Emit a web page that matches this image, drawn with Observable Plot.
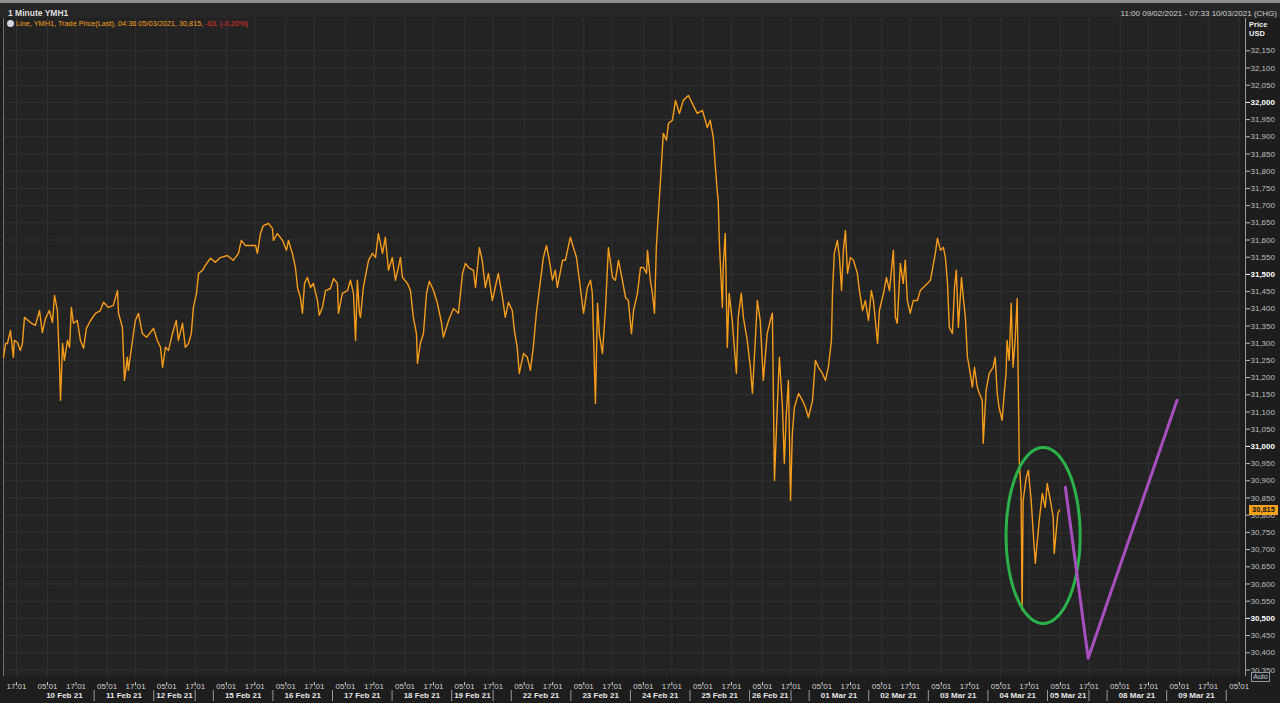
<!DOCTYPE html>
<html>
<head>
<meta charset="utf-8">
<script src="https://cdn.jsdelivr.net/npm/d3@7"></script>
<script src="https://cdn.jsdelivr.net/npm/@observablehq/plot@0.6"></script>
<style>
  html, body { margin:0; padding:0; background:#1d1d1d; }
  body { width:1280px; height:703px; position:relative; overflow:hidden; font-family:"Liberation Sans", Arial, sans-serif; }
  #topband { position:absolute; left:0; top:0; width:1280px; height:3px; background:#8e8e8e; }
  #hdr { position:absolute; left:0; top:3px; width:1280px; height:15px; background:#262626; }
  #title { position:absolute; left:8px; top:5px; font-size:8.5px; font-weight:bold; color:#dedede; line-height:10px; }
  #range { position:absolute; right:3px; top:6px; font-size:8px; color:#d0d0d0; line-height:10px; }
  #chart { position:absolute; left:0; top:18px; }
  #legend { position:absolute; left:7px; top:19px; font-size:7.3px; line-height:10px; color:#f5a01d; white-space:nowrap; }
  #legend .icon { display:inline-block; width:7px; height:7px; border-radius:50%; background:#cfd6e0; margin-right:2px; vertical-align:-1px; }
  #legend .neg { color:#e8302a; }
  .axtitle { position:absolute; left:1249px; font-size:7.5px; font-weight:bold; color:#eeeeee; line-height:9px; }
  #pricebox { position:absolute; left:1249px; width:29px; height:10px; background:#f7a21b; color:#111; font-size:7.5px; font-weight:bold; line-height:10px; text-align:center; }
  #auto { position:absolute; left:1251px; top:672px; width:17px; height:8px; border:1px solid #8d96a3; color:#c3cbd8; font-size:7px; line-height:8px; text-align:center; }
</style>
</head>
<body>
<div id="topband"></div>
<div id="hdr"><div id="title">1 Minute YMH1</div><div id="range">11:00 09/02/2021 - 07:33 10/03/2021 (CHG)</div></div>
<div id="chart"></div>
<div id="legend"></div>
<div class="axtitle" style="top:20px">Price</div>
<div class="axtitle" style="top:29px">USD</div>
<div id="pricebox"></div>
<div id="auto">Auto</div>
<script>
// Trading hours since the 9 Feb 17:00 CT session open (daily 16:00-17:00 break and weekends removed)
const hours = [-5.0, -4.2, -3.5, -2.3, -1.2, -0.8, 0.4, 1.5, 2.3, 3.1, 5.4, 7.3, 8.9, 10.0, 11.2, 12.7, 13.9, 14.7, 15.8, 16.6, 17.0, 17.8, 18.5, 19.7, 20.5, 21.2, 22.0, 23.5, 24.7, 25.9, 27.0, 28.6, 30.5, 32.4, 33.6, 35.5, 37.4, 39.0, 39.4, 40.9, 41.7, 42.8, 43.2, 44.8, 45.9, 47.1, 48.6, 50.2, 51.7, 52.9, 54.4, 55.6, 56.4, 57.5, 58.7, 60.2, 61.7, 62.5, 64.1, 65.2, 66.4, 67.5, 68.3, 69.5, 70.3, 71.8, 72.9, 74.9, 76.8, 78.7, 81.4, 83.7, 85.7, 86.8, 88.4, 92.3, 93.0, 94.2, 95.3, 97.3, 98.8, 99.2, 100.7, 102.7, 104.2, 105.0, 106.5, 107.7, 108.5, 109.6, 110.4, 111.2, 112.3, 113.5, 114.6, 116.2, 116.9, 118.1, 119.3, 121.2, 122.4, 123.9, 124.3, 125.8, 127.8, 128.9, 130.1, 130.9, 131.6, 132.4, 132.8, 133.9, 135.9, 137.4, 138.6, 139.7, 141.3, 142.4, 143.6, 145.1, 146.3, 147.4, 148.2, 149.0, 150.9, 152.1, 153.2, 154.4, 154.8, 155.9, 157.1, 158.3, 159.4, 161.0, 162.5, 164.1, 164.8, 166.8, 168.7, 170.6, 172.2, 173.3, 174.5, 176.4, 177.2, 178.7, 179.8, 181.0, 182.2, 183.7, 184.8, 186.0, 187.6, 188.7, 189.9, 191.4, 192.2, 193.3, 194.1, 195.7, 197.2, 198.4, 199.5, 200.7, 201.8, 203.4, 204.6, 205.7, 206.9, 208.0, 208.8, 210.8, 211.9, 213.8, 215.0, 216.2, 217.3, 218.9, 220.4, 221.6, 222.3, 222.7, 223.5, 224.3, 225.0, 226.2, 227.4, 228.5, 230.1, 231.2, 232.4, 233.9, 235.1, 236.2, 237.4, 238.2, 239.7, 240.9, 242.0, 243.2, 243.6, 244.7, 245.5, 246.3, 247.0, 247.8, 248.6, 249.7, 250.9, 251.7, 253.2, 254.4, 255.9, 257.4, 259.4, 260.9, 262.8, 264.8, 266.7, 267.8, 269.0, 269.8, 270.5, 270.9, 271.3, 272.5, 272.8, 273.6, 274.4, 275.1, 276.3, 276.7, 277.9, 278.6, 279.8, 280.6, 282.1, 283.3, 284.1, 285.2, 286.0, 287.1, 288.3, 289.8, 291.0, 291.8, 292.6, 293.8, 294.5, 295.7, 296.4, 297.2, 298.0, 298.8, 299.5, 300.3, 301.9, 303.4, 304.6, 305.7, 307.3, 308.4, 309.6, 311.1, 312.3, 313.4, 314.6, 315.0, 315.7, 316.9, 317.7, 318.5, 319.2, 320.0, 320.8, 321.9, 323.1, 324.6, 325.4, 326.6, 327.7, 328.9, 330.0, 330.8, 332.4, 333.1, 334.7, 335.8, 337.0, 338.5, 339.3, 340.0, 341.2, 342.3, 343.1, 343.9, 345.0, 346.2, 347.8, 348.9, 350.1, 351.7, 352.8, 354.0, 354.7, 355.5, 356.7, 357.8, 358.6, 359.4, 360.1, 361.3, 362.1, 362.8, 363.6, 364.8, 365.5, 366.3, 367.1, 367.8, 369.0, 369.8, 370.9, 371.7, 372.8, 373.2, 374.3, 375.5, 377.0, 377.8, 378.6, 379.3, 380.5, 381.3, 382.0, 382.4, 383.2, 384.0, 384.7, 385.5, 386.3, 386.7, 387.1, 387.8, 388.2, 388.6, 389.8, 390.6, 391.7, 392.5, 393.3, 394.1, 394.8, 396.0, 397.1, 397.9, 399.1, 400.2, 400.6, 401.4, 402.0, 402.6];
// YMH1 trade price (USD)
const prices = [31259, 31299, 31299, 31337, 31259, 31308, 31302, 31279, 31299, 31375, 31360, 31352, 31395, 31331, 31372, 31395, 31360, 31439, 31395, 31241, 31134, 31299, 31250, 31308, 31288, 31404, 31358, 31366, 31308, 31285, 31343, 31366, 31387, 31395, 31419, 31404, 31410, 31453, 31387, 31346, 31192, 31259, 31221, 31308, 31366, 31387, 31328, 31317, 31331, 31343, 31308, 31288, 31230, 31288, 31279, 31328, 31366, 31308, 31358, 31288, 31299, 31328, 31404, 31445, 31503, 31512, 31526, 31547, 31535, 31549, 31555, 31541, 31561, 31599, 31584, 31584, 31561, 31619, 31642, 31648, 31634, 31599, 31619, 31599, 31570, 31599, 31561, 31520, 31462, 31433, 31387, 31474, 31491, 31462, 31474, 31424, 31381, 31404, 31453, 31459, 31488, 31474, 31387, 31445, 31453, 31483, 31445, 31308, 31483, 31387, 31375, 31462, 31541, 31561, 31549, 31619, 31561, 31608, 31512, 31549, 31483, 31520, 31549, 31491, 31474, 31453, 31375, 31328, 31241, 31299, 31328, 31445, 31480, 31453, 31416, 31358, 31317, 31366, 31401, 31387, 31503, 31532, 31520, 31512, 31462, 31578, 31541, 31462, 31503, 31424, 31462, 31503, 31433, 31375, 31419, 31395, 31337, 31288, 31212, 31270, 31259, 31221, 31288, 31387, 31453, 31549, 31584, 31541, 31483, 31512, 31462, 31541, 31541, 31608, 31578, 31549, 31483, 31387, 31462, 31483, 31445, 31337, 31125, 31416, 31328, 31270, 31404, 31578, 31491, 31483, 31541, 31483, 31433, 31424, 31328, 31395, 31445, 31520, 31520, 31503, 31570, 31483, 31445, 31387, 31578, 31677, 31773, 31910, 31890, 31939, 31948, 32006, 31968, 32006, 32020, 31997, 31968, 31977, 31927, 31948, 31898, 31811, 31744, 31715, 31599, 31404, 31520, 31619, 31288, 31445, 31366, 31328, 31212, 31375, 31445, 31375, 31308, 31230, 31154, 31308, 31424, 31366, 31192, 31328, 31366, 31387, 30901, 31134, 31259, 31113, 30951, 31096, 31192, 30843, 31038, 31113, 31154, 31134, 31113, 31084, 31134, 31250, 31230, 31212, 31192, 31230, 31308, 31445, 31561, 31599, 31549, 31453, 31570, 31628, 31503, 31549, 31541, 31503, 31453, 31395, 31424, 31366, 31453, 31424, 31299, 31395, 31445, 31491, 31453, 31570, 31375, 31358, 31532, 31474, 31541, 31424, 31387, 31424, 31424, 31453, 31462, 31474, 31483, 31532, 31561, 31605, 31570, 31578, 31549, 31474, 31346, 31328, 31462, 31512, 31346, 31491, 31433, 31375, 31259, 31230, 31172, 31230, 31172, 31154, 31134, 31009, 31163, 31212, 31230, 31259, 31154, 31113, 31076, 31154, 31212, 31308, 31250, 31416, 31230, 31308, 31430, 31192, 30959, 30863, 30523, 30843, 30910, 30930, 30843, 30747, 30660, 30727, 30785, 30863, 30823, 30892, 30843, 30794, 30689, 30756, 30805, 30815];
// Hand-drawn annotation (purple V) and circled region (green ellipse), in data units
const annotHours = [404.9, 413.7, 448.0];
const annotPrices = [30881, 30384, 31134];
const circleCenter = [396.3, 30741];
const circleRadius = [14.3, 256];
// Session dates (each session opens 17:00 the previous evening)
const sessionDates = ["10 Feb 21","11 Feb 21","12 Feb 21","15 Feb 21","16 Feb 21","17 Feb 21","18 Feb 21","19 Feb 21","22 Feb 21","23 Feb 21","24 Feb 21","25 Feb 21","26 Feb 21","01 Mar 21","02 Mar 21","03 Mar 21","04 Mar 21","05 Mar 21","08 Mar 21","09 Mar 21","10 Mar 21"];
const weekEndSessions = ["12 Feb 21","19 Feb 21","26 Feb 21","05 Mar 21"];
const tickTimes = ["17:01", "05:01"];
const lastChange = -63;
const lastTime = "04:36 05/03/2021";

const fmt = d3.format(",");
const n = Math.min(hours.length, prices.length);
const series = d3.range(n).map(i => ({h: hours[i], p: prices[i]}));
const annot = annotHours.map((h, i) => ({h, p: annotPrices[i]}));
const ellipse = d3.range(0, 361, 4).map(a => {
  const t = a * Math.PI / 180;
  return {h: circleCenter[0] + circleRadius[0] * Math.cos(t), p: circleCenter[1] + circleRadius[1] * Math.sin(t)};
});

const xMin = -5, xMax = 472.5;
const yTicks = d3.range(30350, 32151, 50);
const majorTicks = yTicks.filter(v => v % 500 === 0);
const minorTicks = yTicks.filter(v => v % 500 !== 0);

const timeTicks = [], timeLabel = new Map();
sessionDates.forEach((d, k) => {
  timeTicks.push(23 * k); timeLabel.set(23 * k, tickTimes[0]);
  timeTicks.push(23 * k + 12); timeLabel.set(23 * k + 12, tickTimes[1]);
});
const dayLabels = [], separators = [];
sessionDates.forEach((d, k) => {
  const fri = weekEndSessions.includes(d);
  const start = 23 * k + 7;
  const end = fri ? 23 * (k + 1) : 23 * (k + 1) + 7;
  if (k > 0) separators.push(start);
  if (fri) separators.push(end);
  if (end <= xMax) dayLabels.push({label: d, mid: (start + end) / 2});
});

const chart = Plot.plot({
  width: 1280, height: 685,
  marginTop: 0, marginRight: 40, marginBottom: 27, marginLeft: 3,
  style: {background: "#1d1d1d", fontFamily: "Liberation Sans, Arial, sans-serif", fontSize: "8px", overflow: "visible"},
  x: {type: "linear", domain: [xMin, xMax], axis: null, label: null},
  y: {type: "linear", domain: [30331, 32244], axis: null, label: null},
  marks: [
    Plot.frame({fill: "#232323", stroke: "none"}),
    Plot.gridY(yTicks, {stroke: "#313131", strokeOpacity: 1}),
    Plot.gridX(timeTicks, {stroke: "#313131", strokeOpacity: 1}),
    Plot.ruleX([xMin], {stroke: "#6e6e6e"}),
    Plot.line(series, {x: "h", y: "p", stroke: "#f59d1a", strokeWidth: 1.4}),
    Plot.line(ellipse, {x: "h", y: "p", stroke: "#2cb24a", strokeWidth: 3}),
    Plot.line(annot, {x: "h", y: "p", stroke: "#a84fc0", strokeWidth: 3}),
    Plot.ruleX([xMax], {dx: 5, stroke: "#9a9a9a"}),
    Plot.axisY(minorTicks, {anchor: "right", dx: 5, tickSize: 4, tickPadding: 1, tickFormat: fmt, color: "#bdbdbd", fontSize: 8, textAnchor: "start"}),
    Plot.axisY(majorTicks, {anchor: "right", dx: 5, tickSize: 4, tickPadding: 1, tickFormat: fmt, color: "#ffffff", fontSize: 8, fontWeight: "bold", textAnchor: "start"}),
    Plot.axisX(timeTicks, {anchor: "bottom", dy: 6, tickSize: 3, tickPadding: -2, tickFormat: d => timeLabel.get(d), color: "#d0d0d0", fontSize: 8}),
    Plot.ruleX(separators, {x: d => d, insetTop: 647, dy: 25, stroke: "#9a9a9a"}),
    Plot.text(dayLabels, {x: "mid", text: "label", frameAnchor: "bottom", dy: 21, fill: "#e6e6e6", fontWeight: "bold", fontSize: 8})
  ]
});
document.getElementById("chart").appendChild(chart);

const last = series[series.length - 1].p;
const prev = last - lastChange;
const pct = (lastChange / prev * 100).toFixed(2);
document.getElementById("legend").innerHTML =
  `<span class="icon"></span>Line, YMH1, Trade Price(Last), ${lastTime}, ${fmt(last)}, <span class="neg">${lastChange}, (${pct}%)</span>`;
const yPix = chart.scale("y").apply(last) + 18;
const box = document.getElementById("pricebox");
box.textContent = fmt(last);
box.style.top = (yPix - 5) + "px";
</script>
</body>
</html>
